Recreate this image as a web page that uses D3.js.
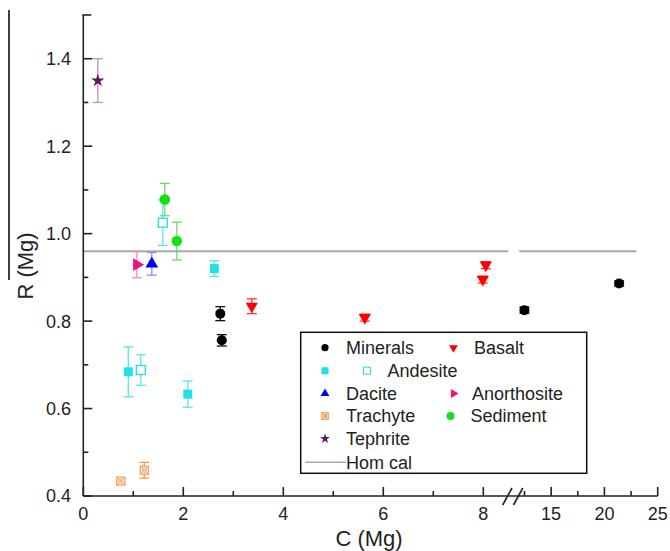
<!DOCTYPE html>
<html><head><meta charset="utf-8">
<script src="https://cdn.jsdelivr.net/npm/d3@7"></script>
<style>body{margin:0;background:#fff}svg{display:block}text{font-family:"Liberation Sans",Arial,sans-serif;fill:#222}</style>
</head><body><svg id="c" width="670" height="551"></svg>
<script>
// ---- data ----
const xTicksLeft = [0, 2, 4, 6, 8];
const xMinorLeft = [1, 3, 5, 7];
const xTicksRight = [15, 20, 25];
const xMinorRight = [12.5, 17.5, 22.5];
const yTicks = [0.4, 0.6, 0.8, 1.0, 1.2, 1.4];
const yMinor = [0.5, 0.7, 0.9, 1.1, 1.3];
const homCal = 0.96;
const homCalSegments = [[0, 8.5], [11.2, 23]];

const mineralsX = [2.74, 2.77, 12.48, 21.38];
const mineralsY = [0.817, 0.756, 0.825, 0.886];
const mineralsErr = [0.016, 0.013, 0.007, 0.006];
const basaltX = [3.37, 5.63, 7.99, 8.05];
const basaltY = [0.834, 0.808, 0.895, 0.928];
const basaltErr = [0.017, 0.008, 0.008, 0.008];
const andesiteFilledX = [0.9, 2.09, 2.62];
const andesiteFilledY = [0.684, 0.633, 0.92];
const andesiteFilledErr = [0.057, 0.03, 0.018];
const andesiteOpenX = [1.15, 1.59];
const andesiteOpenY = [0.688, 1.025];
const andesiteOpenErr = [0.035, 0.052];
const daciteX = [1.37], daciteY = [0.931], daciteErr = [0.026];
const anorthositeX = [1.07], anorthositeY = [0.929], anorthositeErr = [0.03];
const trachyteX = [0.75, 1.22], trachyteY = [0.434, 0.459], trachyteErr = [0.005, 0.018];
const sedimentX = [1.63, 1.87], sedimentY = [1.078, 0.983], sedimentErr = [0.037, 0.043];
const tephriteX = [0.29], tephriteY = [1.35], tephriteErr = [0.05];

// ---- setup ----
const svg = d3.select("#c");
const x = d3.scaleLinear().domain([0, 8.5, 12.5, 25]).range([83.3, 508.3, 524.5, 657.7]);
const y = d3.scaleLinear().domain([0.4, 1.5]).range([496, 15]);
const axisCol = "#222";

// artifact vertical line at left edge
svg.append("line").attr("x1", 9).attr("x2", 9).attr("y1", 10).attr("y2", 280).attr("stroke", "#000").attr("stroke-width", 1.5);

// hom cal
homCalSegments.forEach(s => {
  svg.append("line").attr("x1", x(s[0])).attr("x2", x(s[1])).attr("y1", y(homCal)).attr("y2", y(homCal))
    .attr("stroke", "#aaa").attr("stroke-width", 2);
});

// axes
const ax = svg.append("g");
ax.append("line").attr("x1", x(0)).attr("x2", x(25)).attr("y1", y(0.4)).attr("y2", y(0.4)).attr("stroke", axisCol).attr("stroke-width", 1.6);
ax.append("line").attr("x1", x(0)).attr("x2", x(0)).attr("y1", y(0.4)).attr("y2", y(1.5)).attr("stroke", axisCol).attr("stroke-width", 1.6);
ax.append("line").attr("x1", x(0)-1).attr("x2", x(0)+8).attr("y1", y(1.5)).attr("y2", y(1.5)).attr("stroke", axisCol).attr("stroke-width", 1.6);
// x ticks
[...xTicksLeft, ...xTicksRight].forEach(v => {
  ax.append("line").attr("x1", x(v)).attr("x2", x(v)).attr("y1", y(0.4)).attr("y2", y(0.4)-9).attr("stroke", axisCol).attr("stroke-width", 1.6);
  ax.append("text").attr("x", x(v)).attr("y", 520).attr("text-anchor", "middle").attr("font-size", 18).text(v);
});
[...xMinorLeft, ...xMinorRight].forEach(v => {
  ax.append("line").attr("x1", x(v)).attr("x2", x(v)).attr("y1", y(0.4)).attr("y2", y(0.4)-5).attr("stroke", axisCol).attr("stroke-width", 1.6);
});
// break marks
[[502.7, 512], [513.5, 522.8]].forEach(p => {
  ax.append("line").attr("x1", p[0]).attr("y1", 505).attr("x2", p[1]).attr("y2", 488).attr("stroke", axisCol).attr("stroke-width", 1.6);
});
// y ticks
yTicks.forEach(v => {
  ax.append("line").attr("x1", x(0)).attr("x2", x(0)+9).attr("y1", y(v)).attr("y2", y(v)).attr("stroke", axisCol).attr("stroke-width", 1.6);
  ax.append("text").attr("x", 71).attr("y", y(v)).attr("dy", "0.36em").attr("text-anchor", "end").attr("font-size", 18).text(v.toFixed(1));
});
yMinor.forEach(v => {
  ax.append("line").attr("x1", x(0)).attr("x2", x(0)+5).attr("y1", y(v)).attr("y2", y(v)).attr("stroke", axisCol).attr("stroke-width", 1.6);
});
// titles
svg.append("text").attr("x", 369).attr("y", 546).attr("text-anchor", "middle").attr("font-size", 22).text("C (Mg)");
svg.append("text").attr("transform", "translate(33,266) rotate(-90)").attr("text-anchor", "middle").attr("font-size", 22).text("R (Mg)");

// ---- series ----
function errorBars(xs, ys, es, col, w) {
  const g = svg.append("g").attr("stroke", col).attr("stroke-width", 1.3);
  xs.forEach((xv, i) => {
    const cx = x(xv), t = y(ys[i] + es[i]), b = y(ys[i] - es[i]);
    g.append("line").attr("x1", cx).attr("x2", cx).attr("y1", t).attr("y2", b);
    g.append("line").attr("x1", cx - w).attr("x2", cx + w).attr("y1", t).attr("y2", t);
    g.append("line").attr("x1", cx - w).attr("x2", cx + w).attr("y1", b).attr("y2", b);
  });
}
function symbolDraw(g, type, size, cx, cy, rot, fill, stroke, sw) {
  g.append("path").attr("d", d3.symbol().type(type).size(size)())
    .attr("transform", `translate(${cx},${cy}) rotate(${rot})`)
    .attr("fill", fill).attr("stroke", stroke || "none").attr("stroke-width", sw || 0);
}
function trachyteMark(g, cx, cy, s) {
  const h = s / 2;
  g.append("rect").attr("x", cx - h).attr("y", cy - h).attr("width", s).attr("height", s).attr("fill", "#fff").attr("stroke", "#f59a55").attr("stroke-width", 1.2);
  g.append("path").attr("d", `M${cx-h},${cy-h}L${cx+h},${cy+h}M${cx+h},${cy-h}L${cx-h},${cy+h}`).attr("stroke", "#f59a55").attr("stroke-width", 0.9);
  g.append("circle").attr("cx", cx).attr("cy", cy).attr("r", h * 0.55).attr("fill", "none").attr("stroke", "#f59a55").attr("stroke-width", 0.9);
}

errorBars(tephriteX, tephriteY, tephriteErr, "#c48fcc", 5);
errorBars(anorthositeX, anorthositeY, anorthositeErr, "#f58ab8", 5);
errorBars(daciteX, daciteY, daciteErr, "#8c8cff", 5);
errorBars(andesiteOpenX, andesiteOpenY, andesiteOpenErr, "#55e6ee", 5);
errorBars(andesiteFilledX, andesiteFilledY, andesiteFilledErr, "#55e6ee", 5);
errorBars(sedimentX, sedimentY, sedimentErr, "#66dd66", 5);
errorBars(mineralsX, mineralsY, mineralsErr, "#111", 5);
errorBars(basaltX, basaltY, basaltErr, "#ff3333", 5);
errorBars(trachyteX, trachyteY, trachyteErr, "#f59a55", 5);

const mk = svg.append("g");
tephriteX.forEach((v, i) => symbolDraw(mk, d3.symbolStar, 55, x(v), y(tephriteY[i]), 0, "#661466"));
anorthositeX.forEach((v, i) => symbolDraw(mk, d3.symbolTriangle, 70, x(v), y(anorthositeY[i]), 90, "#f0127a"));
daciteX.forEach((v, i) => symbolDraw(mk, d3.symbolTriangle, 70, x(v), y(daciteY[i]), 0, "#0000ff"));
andesiteOpenX.forEach((v, i) => mk.append("rect").attr("x", x(v) - 4.5).attr("y", y(andesiteOpenY[i]) - 4.5).attr("width", 9).attr("height", 9).attr("fill", "#fff").attr("stroke", "#22dde6").attr("stroke-width", 1.3));
andesiteFilledX.forEach((v, i) => mk.append("rect").attr("x", x(v) - 4.5).attr("y", y(andesiteFilledY[i]) - 4.5).attr("width", 9).attr("height", 9).attr("fill", "#1ee0e8"));
sedimentX.forEach((v, i) => mk.append("circle").attr("cx", x(v)).attr("cy", y(sedimentY[i])).attr("r", 5.3).attr("fill", "#14e014"));
mineralsX.forEach((v, i) => mk.append("circle").attr("cx", x(v)).attr("cy", y(mineralsY[i])).attr("r", 5).attr("fill", "#000"));
basaltX.forEach((v, i) => symbolDraw(mk, d3.symbolTriangle, 65, x(v), y(basaltY[i]), 180, "#ff0000"));
trachyteX.forEach((v, i) => trachyteMark(mk, x(v), y(trachyteY[i]), 8));

// ---- legend ----
const lg = svg.append("g");
lg.append("rect").attr("x", 300.7).attr("y", 332.3).attr("width", 286).attr("height", 141).attr("fill", "#fff").attr("stroke", "#111").attr("stroke-width", 1.5);
const rows = [347.7, 370.7, 393.5, 416, 438.7, 462.3];
function lt(tx, ty, s) { lg.append("text").attr("x", tx).attr("y", ty).attr("dy", "0.36em").attr("font-size", 18).text(s); }
lg.append("circle").attr("cx", 325).attr("cy", rows[0]).attr("r", 3.6).attr("fill", "#000");
lt(346, rows[0], "Minerals");
symbolDraw(lg, d3.symbolTriangle, 34, 453.5, rows[0], 180, "#ff0000");
lt(474, rows[0], "Basalt");
lg.append("rect").attr("x", 321.5).attr("y", rows[1] - 3.5).attr("width", 7).attr("height", 7).attr("fill", "#1ee0e8");
lg.append("rect").attr("x", 363.5).attr("y", rows[1] - 3.5).attr("width", 7).attr("height", 7).attr("fill", "#fff").attr("stroke", "#22dde6").attr("stroke-width", 1);
lt(387.5, rows[1], "Andesite");
symbolDraw(lg, d3.symbolTriangle, 34, 325, rows[2], 0, "#0000ff");
lt(346, rows[2], "Dacite");
symbolDraw(lg, d3.symbolTriangle, 34, 453.5, rows[2], 90, "#f0127a");
lt(472, rows[2], "Anorthosite");
trachyteMark(lg, 325, rows[3], 6.5);
lt(346, rows[3], "Trachyte");
lg.append("circle").attr("cx", 450.5).attr("cy", rows[3]).attr("r", 4).attr("fill", "#14e014");
lt(470.5, rows[3], "Sediment");
symbolDraw(lg, d3.symbolStar, 30, 325, rows[4], 0, "#661466");
lt(346, rows[4], "Tephrite");
lg.append("line").attr("x1", 305).attr("x2", 346).attr("y1", rows[5]).attr("y2", rows[5]).attr("stroke", "#aaa").attr("stroke-width", 1.5);
lt(346, rows[5], "Hom cal");
</script></body></html>
